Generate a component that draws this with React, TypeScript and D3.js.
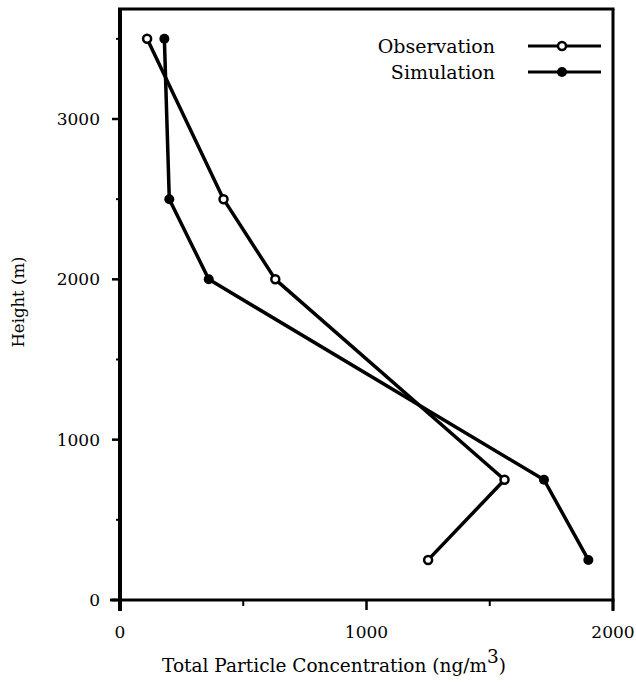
import React from "react";
import * as d3 from "d3";

const heights = [3500, 2500, 2000, 750, 250];
const observation = [110, 420, 630, 1560, 1250];
const simulation = [180, 200, 360, 1720, 1900];
const xMajorTicks = [0, 1000, 2000];
const xMinorTicks = [500, 1500];
const yMajorTicks = [0, 1000, 2000, 3000];
const yMinorTicks = [500, 1500, 2500, 3500];
const seriesNames = ["Observation", "Simulation"];

const W = 636;
const H = 691;
const left = 120;
const right = 613;
const top = 9;
const bottom = 600;
const FONT = "'DejaVu Serif', serif";

export default function App() {
  const x = d3.scaleLinear().domain([0, 2000]).range([left, right]);
  const y = d3.scaleLinear().domain([0, 3000]).range([bottom, 119]);
  const line = d3
    .line<[number, number]>()
    .x((d) => x(d[0]))
    .y((d) => y(d[1]));
  const obsPts: [number, number][] = observation.map((v, i) => [v, heights[i]]);
  const simPts: [number, number][] = simulation.map((v, i) => [v, heights[i]]);

  return (
    <svg
      width={W}
      height={H}
      style={{ position: "absolute", left: 0, top: 0, background: "#fff" }}
    >
      {/* frame */}
      <line x1={left} x2={left} y1={top} y2={bottom + 11} stroke="#000" strokeWidth={4} />
      <line x1={left - 2} x2={right + 1.5} y1={top} y2={top} stroke="#000" strokeWidth={3} />
      <line x1={right} x2={right} y1={top} y2={bottom + 11} stroke="#000" strokeWidth={3} />
      <line x1={left - 10} x2={right + 1.5} y1={bottom} y2={bottom} stroke="#000" strokeWidth={3} />

      {/* y ticks */}
      {yMajorTicks.map((t) => (
        <g key={"ym" + t}>
          <line x1={left - 8} x2={left} y1={y(t)} y2={y(t)} stroke="#000" strokeWidth={2.5} />
          <text
            x={100}
            y={y(t)}
            dy="0.35em"
            textAnchor="end"
            fontFamily={FONT}
            fontSize={17}
          >
            {t}
          </text>
        </g>
      ))}
      {yMinorTicks.map((t) => (
        <line key={"yn" + t} x1={left - 4} x2={left} y1={y(t)} y2={y(t)} stroke="#000" strokeWidth={2} />
      ))}

      {/* x ticks */}
      {xMajorTicks.map((t) => (
        <g key={"xm" + t}>
          <line x1={x(t)} x2={x(t)} y1={bottom} y2={bottom + 10} stroke="#000" strokeWidth={2.5} />
          <text
            x={x(t)}
            y={632}
            dy="0.35em"
            textAnchor="middle"
            fontFamily={FONT}
            fontSize={17}
          >
            {t}
          </text>
        </g>
      ))}
      {xMinorTicks.map((t) => (
        <line key={"xn" + t} x1={x(t)} x2={x(t)} y1={bottom} y2={bottom + 6} stroke="#000" strokeWidth={2} />
      ))}

      {/* axis titles */}
      <text
        x={334}
        y={672}
        textAnchor="middle"
        fontFamily={FONT}
        fontSize={18.5}
      >
        Total Particle Concentration (ng/m
        <tspan dy={-9}>3</tspan>
        <tspan dy={9}>)</tspan>
      </text>
      <text
        transform={`translate(24,302) rotate(-90)`}
        textAnchor="middle"
        fontFamily={FONT}
        fontSize={16.5}
      >
        Height (m)
      </text>

      {/* series lines */}
      <path d={line(obsPts) || ""} fill="none" stroke="#000" strokeWidth={3.5} strokeLinejoin="round" />
      <path d={line(simPts) || ""} fill="none" stroke="#000" strokeWidth={3.5} strokeLinejoin="round" />
      {obsPts.map((p, i) => (
        <circle key={"o" + i} cx={x(p[0])} cy={y(p[1])} r={4} fill="#fff" stroke="#000" strokeWidth={2.5} />
      ))}
      {simPts.map((p, i) => (
        <circle key={"s" + i} cx={x(p[0])} cy={y(p[1])} r={5} fill="#000" />
      ))}

      {/* legend */}
      {seriesNames.map((name, i) => {
        const ly = 46 + i * 26;
        return (
          <g key={name}>
            <text
              x={495}
              y={ly}
              dy="0.35em"
              textAnchor="end"
              fontFamily={FONT}
              fontSize={19}
            >
              {name}
            </text>
            <line x1={528} x2={601} y1={ly} y2={ly} stroke="#000" strokeWidth={3} />
            {i === 0 ? (
              <circle cx={562} cy={ly} r={4} fill="#fff" stroke="#000" strokeWidth={2.5} />
            ) : (
              <circle cx={562} cy={ly} r={5} fill="#000" />
            )}
          </g>
        );
      })}
    </svg>
  );
}
